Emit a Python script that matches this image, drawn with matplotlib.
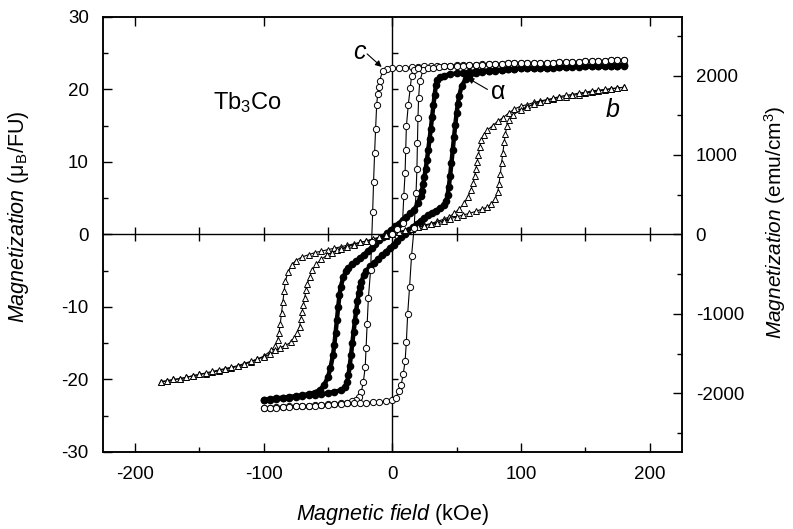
import numpy as np
import matplotlib as mpl
mpl.use('agg')
import matplotlib.pyplot as plt

mpl.rcParams.update({
    'font.family': ['Liberation Sans', 'DejaVu Sans'],
    'font.size': 13.5,
    'mathtext.fontset': 'custom',
    'mathtext.rm': 'Liberation Sans',
    'mathtext.it': 'Liberation Sans:italic',
    'mathtext.bf': 'Liberation Sans:bold',
    'axes.linewidth': 1.1,
    'axes.unicode_minus': False,
})

# ---- sample a (filled circles) ----
a_desc_H = [180, 175, 170, 165, 160, 155, 150, 145, 140, 135, 130, 125, 120, 115, 110, 105, 100, 95, 90, 85,
            80, 75, 70, 65, 60, 55, 50, 45, 40, 37, 35, 34, 33, 32, 31, 30, 29, 28, 27, 26, 25, 24, 23, 22, 20, 17,
            14, 11, 8, 5, 2, -1, -4, -7, -10, -13, -16, -19, -22, -25, -28, -31, -34, -36, -38, -40, -41, -42,
            -43, -44, -45, -46, -48, -50, -53, -56, -60, -65, -70, -75, -80, -85, -90, -95, -100]
a_desc_M = [23.3, 23.3, 23.3, 23.2, 23.2, 23.2, 23.2, 23.1, 23.1, 23.1, 23.1, 23.0, 23.0, 23.0, 22.9, 22.9,
            22.9, 22.8, 22.8, 22.7, 22.7, 22.6, 22.6, 22.5, 22.4, 22.3, 22.2, 22.1, 21.9, 21.7, 21.3, 20.6, 19.3,
            17.8, 16.2, 14.6, 13.1, 11.7, 10.3, 9.0, 7.9, 6.9, 6.0, 5.3, 4.3, 3.4,
            2.9, 2.4, 2.0, 1.5, 1.1, 0.6, 0.2, -0.3, -0.8, -1.3, -1.8, -2.3, -2.8, -3.2, -3.7, -4.1, -4.6, -5.1,
            -5.9, -7.2, -8.4, -10.0, -11.8, -13.6, -15.2, -16.6, -18.4, -19.7, -20.8, -21.4, -21.8, -22.0, -22.2,
            -22.3, -22.4, -22.5, -22.6, -22.7, -22.8]
a_asc_H = [-100, -95, -90, -85, -80, -75, -70, -65, -60, -55, -50, -45, -40, -37, -35, -34, -33, -32, -31, -30,
           -29, -28, -27, -26, -25, -24, -22, -20, -17, -14, -11, -8, -5, -2, 1, 4, 7, 10, 13, 16, 19, 22, 25, 28,
           31, 34, 37, 40, 42, 43, 44, 45, 46, 47, 48, 49, 50, 51, 52, 54, 57, 60, 65, 70, 75, 80, 85, 90, 95,
           100, 105, 110, 115, 120, 125, 130, 135, 140, 145, 150, 155, 160, 165, 170, 175, 180]
a_asc_M = [-22.9, -22.8, -22.7, -22.6, -22.5, -22.4, -22.3, -22.2, -22.1, -22.0, -21.9, -21.7, -21.5, -21.1,
           -20.3, -19.4, -18.1, -16.6, -15.0, -13.4, -11.9, -10.5, -9.2, -8.1, -7.2, -6.5, -5.6, -5.0, -4.4, -3.9,
           -3.4, -2.9, -2.4, -1.9, -1.4, -0.9, -0.4, 0.1, 0.6, 1.0, 1.5, 1.9, 2.3, 2.7, 3.0, 3.3, 3.6, 4.0, 4.6,
           5.4, 6.6, 8.1, 9.8, 11.6, 13.4, 15.1, 16.7, 18.0, 19.1, 20.5, 21.4, 21.9, 22.2, 22.4, 22.5, 22.6,
           22.7, 22.8, 22.8, 22.9, 22.9, 23.0, 23.0, 23.0, 23.1, 23.1, 23.1, 23.2, 23.2, 23.2, 23.2, 23.3, 23.3,
           23.3, 23.3, 23.4]

# ---- sample b (open triangles) ----
b_desc_H = [180, 175, 170, 165, 160, 155, 150, 145, 140, 135, 130, 125, 120, 115, 110, 105, 100, 95, 91, 86,
            82, 78, 74, 71, 69, 68, 67, 66, 65, 64, 63, 61, 59, 56, 52, 48, 44, 40, 35, 30, 25, 20, 15, 10, 5, 0,
            -5, -10, -15, -20, -25, -30, -35, -40, -45, -50, -55, -60, -65, -70, -75, -78, -81, -83, -84, -85,
            -86, -87, -88, -89, -91, -94, -100, -105, -110, -115, -120, -125, -130, -135, -140, -145, -150, -155,
            -160, -165, -170, -175, -180]
b_desc_M = [20.3, 20.2, 20.1, 19.9, 19.8, 19.6, 19.5, 19.3, 19.2, 19.0, 18.9, 18.7, 18.6, 18.4, 18.2, 17.9, 17.7,
            17.3, 16.8, 16.1, 15.6, 15.0, 14.4, 13.7, 13.0, 12.0, 11.0, 10.0, 9.0, 8.0, 7.1, 6.1, 5.2, 4.3, 3.5,
            2.9, 2.4, 2.1, 1.8, 1.5, 1.3, 1.0, 0.8, 0.5, 0.3, 0.0, -0.2, -0.5, -0.7, -0.9, -1.1, -1.3, -1.5, -1.7,
            -1.9, -2.1, -2.3, -2.5, -2.8, -3.1, -3.6, -4.2, -5.2, -6.4, -7.8, -9.3, -10.8, -12.3, -13.6, -14.6,
            -15.4, -16.0, -16.8, -17.2, -17.6, -17.9, -18.2, -18.4, -18.6, -18.8, -19.0, -19.2, -19.3, -19.5,
            -19.7, -19.9, -20.0, -20.2, -20.3]
b_asc_H = [-180, -175, -170, -165, -160, -155, -150, -145, -140, -135, -130, -125, -120, -115, -110, -105, -100,
           -95, -91, -87, -83, -79, -76, -74, -72, -71, -70, -69, -68, -67, -66, -64, -62, -59, -55, -51, -47, -43,
           -40, -35, -30, -25, -20, -15, -10, -5, 0, 5, 10, 15, 20, 25, 30, 35, 40, 45, 50, 55, 60, 65, 70, 74,
           77, 80, 82, 83, 84, 85, 86, 87, 88, 89, 91, 94, 100, 105, 110, 115, 120, 125, 130, 135, 140, 145, 150,
           155, 160, 165, 170, 175, 180]
b_asc_M = [-20.3, -20.2, -20.0, -19.9, -19.7, -19.5, -19.3, -19.1, -18.9, -18.7, -18.5, -18.3, -18.1, -17.8,
           -17.5, -17.2, -16.9, -16.5, -16.0, -15.6, -15.3, -14.9, -14.3, -13.6, -12.7, -11.7, -10.7, -9.7, -8.7,
           -7.7, -6.8, -5.8, -4.9, -4.1, -3.4, -2.9, -2.5, -2.2, -2.0, -1.7, -1.4, -1.1, -0.9, -0.6, -0.4, -0.1,
           0.1, 0.4, 0.6, 0.8, 1.0, 1.2, 1.4, 1.6, 1.9, 2.2, 2.4, 2.7, 2.9, 3.2, 3.5, 3.8, 4.2, 4.9, 5.8, 7.0,
           8.4, 9.9, 11.3, 12.7, 13.9, 14.9, 15.8, 16.5, 17.2, 17.6, 18.0, 18.3, 18.5, 18.8, 19.0, 19.2, 19.3,
           19.5, 19.6, 19.8, 19.9, 20.0, 20.1, 20.2, 20.3]

# ---- sample c (open circles) ----
c_desc_H = [180, 175, 170, 165, 160, 155, 150, 145, 140, 135, 130, 125, 120, 115, 110, 105, 100, 95, 90, 85, 80,
            75, 70, 65, 60, 55, 50, 45, 40, 35, 30, 25, 20, 15, 10, 5, 0, -4, -7.5, -9.8, -10.6, -11.3, -12.1,
            -12.9, -13.7, -14.5, -15.2, -16.0, -16.8, -18.5, -19.5, -20.3, -21.0, -22.5, -24.0, -25.5, -28, -31,
            -35, -40, -45, -50, -55, -60, -65, -70, -75, -80, -85, -90, -95, -100]
c_desc_M = [24.0, 24.0, 24.0, 23.9, 23.9, 23.9, 23.9, 23.8, 23.8, 23.8, 23.8, 23.7, 23.7, 23.7, 23.7, 23.6, 23.6,
            23.6, 23.6, 23.5, 23.5, 23.5, 23.5, 23.4, 23.4, 23.4, 23.4, 23.3, 23.3, 23.3, 23.2, 23.2, 23.1, 23.1,
            23.0, 23.0, 22.9, 22.8, 22.5, 21.2, 20.3, 19.4, 17.8, 14.6, 11.2, 7.2, 3.1, -1.0, -4.9, -8.7, -12.4,
            -15.6, -18.3, -20.4, -21.7, -22.4, -22.8, -23.0, -23.2, -23.3, -23.4, -23.4, -23.5, -23.5, -23.6,
            -23.6, -23.7, -23.7, -23.8, -23.8, -23.9, -23.9]
c_asc_H = [-100, -95, -90, -85, -80, -75, -70, -65, -60, -55, -50, -45, -40, -35, -30, -25, -20, -15, -10, -5, 0,
           3, 5, 7, 8.5, 10, 11, 12, 13.5, 15, 17, 18.5, 19.2, 19.6, 20.0, 20.5, 21.4, 24, 28, 32, 36, 40, 45, 50,
           55, 60, 65, 70, 75, 80, 85, 90, 95, 100, 105, 110, 115, 120, 125, 130, 135, 140, 145, 150, 155, 160,
           165, 170, 175, 180]
c_asc_M = [-24.0, -23.9, -23.9, -23.8, -23.8, -23.7, -23.7, -23.6, -23.6, -23.5, -23.5, -23.4, -23.4, -23.3,
           -23.3, -23.2, -23.2, -23.1, -23.1, -23.0, -22.9, -22.5, -21.6, -20.7, -19.3, -17.5, -14.8, -11.0, -7.2,
           -3.0, 0.9, 5.7, 9.0, 12.6, 16.0, 18.8, 21.1, 22.7, 22.9, 23.0, 23.1, 23.2, 23.2, 23.3, 23.3, 23.4,
           23.4, 23.4, 23.5, 23.5, 23.5, 23.6, 23.6, 23.6, 23.6, 23.7, 23.7, 23.7, 23.7, 23.8, 23.8, 23.8, 23.8,
           23.9, 23.9, 23.9, 23.9, 24.0, 24.0, 24.0]
c_virgin_H = [0, 4, 8, 9, 10, 10.5, 11, 12.5, 14, 15, 17, 20]
c_virgin_M = [0.0, 0.7, 1.6, 5.3, 8.5, 11.7, 14.9, 17.9, 20.2, 21.8, 22.7, 23.0]

# 1 muB/FU -> emu/cm3
emu_per_muB = 91.25

fig = plt.figure(figsize=(7.93, 5.29), dpi=100)
ax = fig.add_axes([0.1295, 0.1456, 0.7302, 0.8224])

# centre lines with their own ticks
ax.axhline(0, color='k', lw=1.0, zorder=1)
ax.axvline(0, color='k', lw=1.0, zorder=1)
hticks = np.array([-200, -150, -100, -50, 50, 100, 150, 200])
vticks = np.array([-25, -20, -15, -10, -5, 5, 10, 15, 20, 25])
ax.plot(hticks, np.zeros_like(hticks), ls='none', marker='|', ms=10, mew=1.0, color='k', zorder=1)
ax.plot(np.zeros_like(vticks), vticks, ls='none', marker=1, ms=4, mew=1.0, color='k', zorder=1)

# sample a: dense filled circles
for h, m in [(a_desc_H, a_desc_M), (a_asc_H, a_asc_M)]:
    ax.plot(h, m, '-', color='k', lw=3.2, zorder=2, solid_capstyle='round')
    ax.plot(h, m, 'o', color='k', ms=4.5, zorder=2)

# sample b: open triangles
for h, m in [(b_desc_H, b_desc_M), (b_asc_H, b_asc_M)]:
    ax.plot(h, m, '-', color='k', lw=0.8, marker='^', ms=5, mfc='white', mec='k', mew=0.7, zorder=3)

# sample c: open circles
for h, m in [(c_desc_H, c_desc_M), (c_asc_H, c_asc_M), (c_virgin_H, c_virgin_M)]:
    ax.plot(h, m, '-', color='k', lw=0.8, marker='o', ms=4.5, mfc='white', mec='k', mew=0.7, zorder=4)

ax.set_xlim(-225, 225)
ax.set_ylim(-30, 30)
ax.set_xticks([-200, -100, 0, 100, 200])
ax.set_xticks([-150, -50, 50, 150], minor=True)
ax.set_yticks([-30, -20, -10, 0, 10, 20, 30])
ax.set_yticks([-25, -15, -5, 5, 15, 25], minor=True)
ax.tick_params(which='both', direction='in', top=True, right=False, width=1.0, pad=10)
ax.tick_params(which='major', length=6.5)
ax.tick_params(which='minor', length=3.5, top=False)

ax2 = ax.twinx()
ax2.set_ylim(-30 * emu_per_muB, 30 * emu_per_muB)
ax2.set_yticks([-2000, -1000, 0, 1000, 2000])
ax2.set_yticks([-2500, -1500, -500, 500, 1500, 2500], minor=True)
ax2.tick_params(which='both', direction='in', width=1.0, pad=10)
ax2.tick_params(which='major', length=6.5)
ax2.tick_params(which='minor', length=3.5)

ax.set_xlabel(r'$\mathit{Magnetic\ field}$ (kOe)', fontsize=15.5)
ax.xaxis.set_label_coords(0.5, -0.115)
ax.xaxis.label.set_va('top')
ax.set_ylabel(r'$\mathit{Magnetization}$ (μ$_\mathregular{B}$/FU)', fontsize=15.5)
ax.yaxis.set_label_coords(-0.123, 0.54)
ax2.set_ylabel(r'$\mathit{Magnetization}$ (emu/cm$^\mathregular{3}$)', fontsize=15)
ax2.yaxis.set_label_coords(1.138, 0.528)

# labels on the plot
ax.text(-139, 17.3, r'Tb$_\mathregular{3}$Co', fontsize=17, ha='left', va='baseline')
ax.text(-25.5, 25.2, 'c', fontsize=18, style='italic', ha='center', va='center')
ax.annotate('', xy=(-8.2, 23.1), xytext=(-19.5, 24.9),
            arrowprops=dict(arrowstyle='-|>', color='k', lw=0.8, mutation_scale=9, shrinkA=0, shrinkB=0))
ax.text(82, 19.6, 'α', fontsize=18, ha='center', va='center')
ax.annotate('', xy=(58.5, 21.6), xytext=(74, 20.0),
            arrowprops=dict(arrowstyle='-|>', color='k', lw=0.8, mutation_scale=9, shrinkA=0, shrinkB=0))
ax.text(171.5, 17.2, 'b', fontsize=18, style='italic', ha='center', va='center')

fig.savefig('out.png', dpi=100)
